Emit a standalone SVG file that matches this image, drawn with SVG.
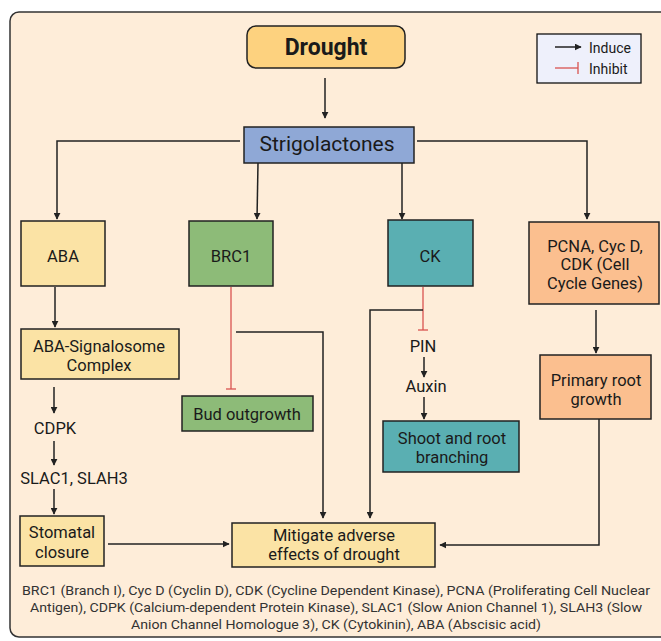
<svg xmlns="http://www.w3.org/2000/svg" width="661" height="641" viewBox="0 0 661 641">
<defs>
<marker id="ar" viewBox="0 0 10 10" refX="9" refY="5" markerWidth="7" markerHeight="7" markerUnits="userSpaceOnUse" orient="auto"><path d="M0,0 L10,5 L0,10 z" fill="#222"/></marker>
</defs>
<style>
text{font-family:Roboto,"Liberation Sans",sans-serif;fill:#1a1a1a;text-anchor:middle}
.b{stroke:#222;stroke-width:1.5}
.c{fill:none;stroke:#222;stroke-width:1.5}
.inh{fill:none;stroke:#d9534f;stroke-width:1.3}
.t{font-size:16.5px}
.fn{font-size:13px;fill:#333}
</style>
<rect width="661" height="641" fill="#fff"/>
<rect x="10" y="12" width="670" height="625" rx="9" fill="#FEEDD9" stroke="#333" stroke-width="1.5"/>

<g id="connectors">
<line class="c" x1="325" y1="78" x2="325" y2="118" marker-end="url(#ar)"/>
<polyline class="c" points="240,141 57,141 57,219" marker-end="url(#ar)"/>
<polyline class="c" points="417,141 587,141 587,219" marker-end="url(#ar)"/>
<line class="c" x1="258" y1="163" x2="257" y2="219" marker-end="url(#ar)"/>
<line class="c" x1="402" y1="163" x2="402" y2="219" marker-end="url(#ar)"/>
<line class="c" x1="55" y1="287" x2="55" y2="327" marker-end="url(#ar)"/>
<line class="c" x1="54" y1="387" x2="54" y2="413" marker-end="url(#ar)"/>
<line class="c" x1="54" y1="441" x2="54" y2="465" marker-end="url(#ar)"/>
<line class="c" x1="54" y1="489" x2="54" y2="514" marker-end="url(#ar)"/>
<line class="c" x1="108" y1="544" x2="229" y2="544" marker-end="url(#ar)"/>
<line class="inh" x1="231" y1="287" x2="231" y2="389"/>
<line class="inh" x1="226" y1="389" x2="236" y2="389"/>
<polyline class="c" points="236,332 323,332 323,518" marker-end="url(#ar)"/>
<line class="inh" x1="423" y1="287" x2="423" y2="330"/>
<line class="inh" x1="418" y1="330" x2="428" y2="330"/>
<polyline class="c" points="423,310 370,310 370,518" marker-end="url(#ar)"/>
<line class="c" x1="424" y1="357" x2="424" y2="377" marker-end="url(#ar)"/>
<line class="c" x1="424" y1="397" x2="424" y2="419" marker-end="url(#ar)"/>
<line class="c" x1="596" y1="310" x2="596" y2="353" marker-end="url(#ar)"/>
<polyline class="c" points="599,419 599,545 440,545" marker-end="url(#ar)"/>
</g>

<g id="drought"><rect class="b" x="247" y="26" width="158" height="42" rx="9" fill="#FDD27F"/><text x="326" y="55" style="font-size:23px;font-weight:bold">Drought</text></g>
<g id="strigolactones"><rect class="b" x="244" y="127" width="170" height="36" fill="#8FA8D6"/><text x="327" y="151" style="font-size:21px">Strigolactones</text></g>
<g id="aba"><rect class="b" x="21" y="221" width="84" height="65" fill="#FBE3A5"/><text class="t" x="63" y="262">ABA</text></g>
<g id="brc1"><rect class="b" x="189" y="221" width="84" height="65" fill="#8DBB78"/><text class="t" x="231" y="262">BRC1</text></g>
<g id="ck"><rect class="b" x="388" y="220" width="85" height="66" fill="#5AAFB2"/><text class="t" x="430" y="262">CK</text></g>
<g id="pcna"><rect class="b" x="529" y="222" width="130" height="82" fill="#FBBF8F"/><text class="t" x="595" y="252">PCNA, Cyc D,</text><text class="t" x="595" y="270">CDK (Cell</text><text class="t" x="595" y="289">Cycle Genes)</text></g>
<g id="signalosome"><rect class="b" x="21" y="329" width="158" height="50" fill="#FBE3A5"/><text class="t" x="99" y="352">ABA-Signalosome</text><text class="t" x="99" y="371">Complex</text></g>
<g id="cdpk"><text class="t" x="55" y="434">CDPK</text></g>
<g id="slac"><text class="t" x="74" y="484">SLAC1, SLAH3</text></g>
<g id="stomatal"><rect class="b" x="20" y="516" width="84" height="50" fill="#FBE3A5"/><text class="t" x="62" y="538">Stomatal</text><text class="t" x="62" y="558">closure</text></g>
<g id="bud"><rect class="b" x="182" y="396" width="131" height="35" fill="#8DBB78"/><text class="t" x="247" y="420">Bud outgrowth</text></g>
<g id="pin"><text class="t" x="423" y="352">PIN</text></g>
<g id="auxin"><text class="t" x="426" y="392">Auxin</text></g>
<g id="shoot"><rect class="b" x="383" y="421" width="136" height="51" fill="#5AAFB2"/><text class="t" x="452" y="444">Shoot and root</text><text class="t" x="452" y="463">branching</text></g>
<g id="primary"><rect class="b" x="540" y="355" width="111" height="64" fill="#FBBF8F"/><text class="t" x="596" y="386">Primary root</text><text class="t" x="596" y="405">growth</text></g>
<g id="mitigate"><rect class="b" x="232" y="523" width="203" height="44" fill="#FBE3A5"/><text class="t" x="334" y="541">Mitigate adverse</text><text class="t" x="334" y="560">effects of drought</text></g>

<g id="legend">
<rect x="537" y="34" width="104" height="49" fill="#EEF0FB" stroke="#111" stroke-width="1.3"/>
<line class="c" x1="555" y1="47" x2="581" y2="47" marker-end="url(#ar)"/>
<text x="589" y="53" style="font-size:14px;text-anchor:start">Induce</text>
<line class="inh" x1="555" y1="68" x2="578" y2="68"/>
<line class="inh" x1="578" y1="62" x2="578" y2="74"/>
<text x="589" y="74" style="font-size:14px;text-anchor:start">Inhibit</text>
</g>

<g id="footnote">
<text class="fn" x="336" y="595" textLength="628" lengthAdjust="spacingAndGlyphs">BRC1 (Branch I), Cyc D (Cyclin D), CDK (Cycline Dependent Kinase), PCNA (Proliferating Cell Nuclear</text>
<text class="fn" x="336" y="612" textLength="612" lengthAdjust="spacingAndGlyphs">Antigen), CDPK (Calcium-dependent Protein Kinase), SLAC1 (Slow Anion Channel 1), SLAH3 (Slow</text>
<text class="fn" x="336" y="629" textLength="410" lengthAdjust="spacingAndGlyphs">Anion Channel Homologue 3), CK (Cytokinin), ABA (Abscisic acid)</text>
</g>
</svg>
